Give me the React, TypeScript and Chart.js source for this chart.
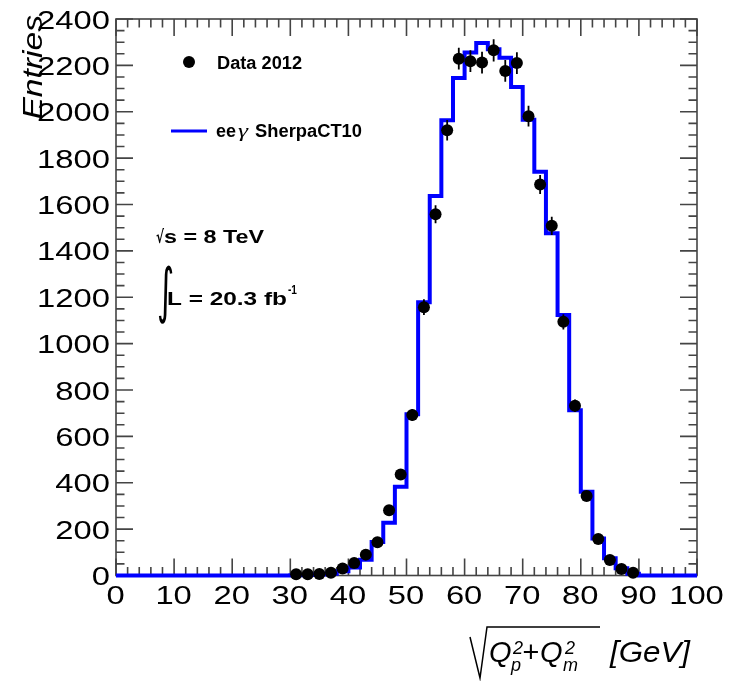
import React, { useEffect, useRef } from "react";
import { Chart, registerables } from "chart.js";

Chart.register(...registerables);

// MC histogram (eeγ SherpaCT10): lower bin edges and contents
const mcBinEdges = [0, 30, 32, 34, 36, 38, 40, 42, 44, 46, 48, 50, 52, 54, 56, 58, 60, 62, 64, 66, 68, 70, 72, 74, 76, 78, 80, 82, 84, 86, 88, 90];
const mcValues = [0, 1, 2, 4, 8, 18, 35, 68, 145, 227, 383, 695, 1178, 1637, 1963, 2146, 2255, 2297, 2270, 2233, 2107, 1966, 1741, 1476, 1123, 713, 361, 160, 74, 31, 8, 0];
const mcUpperEdge = 100;

// Data 2012: bin centres, entries and error bars
const dataX = [31, 33, 35, 37, 39, 41, 43, 45, 47, 49, 51, 53, 55, 57, 59, 61, 63, 65, 67, 69, 71, 73, 75, 77, 79, 81, 83, 85, 87, 89];
const dataY = [5, 5, 6, 12, 30, 54, 90, 143, 281, 436, 692, 1157, 1558, 1920, 2229, 2218, 2212, 2265, 2176, 2210, 1981, 1686, 1508, 1094, 732, 343, 157, 67, 28, 12];
const dataErr = [2, 2, 2, 3, 5, 7, 9, 12, 17, 21, 26, 34, 39, 44, 47, 47, 47, 48, 47, 47, 45, 41, 39, 33, 27, 19, 13, 8, 5, 3];

const xMin = 0, xMax = 100, xMajor = 10, xMinor = 2;
const yMin = 0, yMax = 2400, yMajor = 200, yMinor = 50;

const SANS = '"Liberation Sans", Arial, Helvetica, sans-serif';

function fitText(ctx: CanvasRenderingContext2D, text: string, x: number, y: number, font: string, width?: number, align: CanvasTextAlign = "left", sxFixed?: number) {
  ctx.save();
  ctx.font = font;
  const w = ctx.measureText(text).width;
  const sx = width ? width / w : (sxFixed ?? 1);
  ctx.translate(x, y);
  ctx.scale(sx, 1);
  ctx.textAlign = align;
  ctx.textBaseline = "alphabetic";
  ctx.fillText(text, 0, 0);
  ctx.restore();
}

const rootPlugin = {
  id: "rootStyle",
  beforeDatasetsDraw(chart: any) {
    const { ctx, chartArea: a, scales } = chart;
    const xs = scales.x, ys = scales.y;
    ctx.save();
    ctx.strokeStyle = "#444";
    ctx.lineWidth = 1.6;
    ctx.strokeRect(a.left, a.top, a.right - a.left, a.bottom - a.top);
    ctx.beginPath();
    for (let v = xMin; v <= xMax + 1e-9; v += xMinor) {
      const px = xs.getPixelForValue(v);
      const len = Math.abs(v % xMajor) < 1e-9 ? 17 : 8.5;
      ctx.moveTo(px, a.bottom); ctx.lineTo(px, a.bottom - len);
      ctx.moveTo(px, a.top); ctx.lineTo(px, a.top + len);
    }
    for (let v = yMin; v <= yMax + 1e-9; v += yMinor) {
      const py = ys.getPixelForValue(v);
      const len = Math.abs(v % yMajor) < 1e-9 ? 17 : 8.5;
      ctx.moveTo(a.left, py); ctx.lineTo(a.left + len, py);
      ctx.moveTo(a.right, py); ctx.lineTo(a.right - len, py);
    }
    ctx.stroke();
    ctx.restore();
  },
  afterDatasetsDraw(chart: any) {
    const { ctx, scales } = chart;
    const xs = scales.x, ys = scales.y;
    ctx.save();
    // error bars
    ctx.strokeStyle = "#000";
    ctx.lineWidth = 1.8;
    ctx.beginPath();
    dataX.forEach((x, i) => {
      const px = xs.getPixelForValue(x);
      ctx.moveTo(px, ys.getPixelForValue(dataY[i] - dataErr[i]));
      ctx.lineTo(px, ys.getPixelForValue(dataY[i] + dataErr[i]));
    });
    ctx.stroke();

    ctx.fillStyle = "#000";
    // tick labels
    const tickFont = `26px ${SANS}`;
    for (const t of ys.ticks) {
      const py = ys.getPixelForValue(t.value);
      ctx.save();
      ctx.font = tickFont;
      ctx.translate(110, py + 9.5);
      ctx.scale(1.26, 1);
      ctx.textAlign = "right";
      ctx.fillText(String(t.value), 0, 0);
      ctx.restore();
    }
    for (const t of xs.ticks) {
      const px = xs.getPixelForValue(t.value);
      ctx.save();
      ctx.font = tickFont;
      ctx.translate(px - 0.5, 604);
      ctx.scale(1.26, 1);
      ctx.textAlign = "center";
      ctx.fillText(String(t.value), 0, 0);
      ctx.restore();
    }

    // y title
    ctx.save();
    ctx.font = `italic 28px ${SANS}`;
    ctx.translate(42, 15);
    ctx.rotate(-Math.PI / 2);
    ctx.scale(1.2, 1);
    ctx.textAlign = "right";
    ctx.fillText("Entries", 0, 0);
    ctx.restore();

    // x title: sqrt(Q_p^2 + Q_m^2) [GeV]
    ctx.save();
    ctx.strokeStyle = "#000";
    ctx.lineWidth = 1.5;
    ctx.beginPath();
    ctx.moveTo(470, 637);
    ctx.lineTo(480, 678);
    ctx.lineTo(487, 627);
    ctx.lineTo(600, 627);
    ctx.stroke();
    ctx.restore();
    const tf = `italic 29px ${SANS}`;
    const sf = `italic 18px ${SANS}`;
    fitText(ctx, "Q", 489, 662, tf);
    fitText(ctx, "2", 513, 654, sf);
    fitText(ctx, "p", 511, 671, sf);
    fitText(ctx, "+", 522, 662, tf);
    fitText(ctx, "Q", 540, 662, tf);
    fitText(ctx, "2", 565, 654, sf);
    fitText(ctx, "m", 563, 671, sf);
    fitText(ctx, "[GeV]", 610, 662, tf, 80);

    // legend
    ctx.beginPath();
    ctx.arc(189, 62, 6, 0, Math.PI * 2);
    ctx.fill();
    const lf = `bold 18px ${SANS}`;
    fitText(ctx, "Data 2012", 217, 68.5, lf, 85);
    ctx.save();
    ctx.strokeStyle = "#0000ff";
    ctx.lineWidth = 3;
    ctx.beginPath();
    ctx.moveTo(171, 131);
    ctx.lineTo(207, 131);
    ctx.stroke();
    ctx.restore();
    fitText(ctx, "ee", 216, 137, lf, 20);
    fitText(ctx, "γ", 238, 137, `italic 18px "Liberation Serif", serif`, 10);
    fitText(ctx, "SherpaCT10", 255, 137, lf, 107);

    // annotations
    fitText(ctx, "√", 156, 243, `bold 18px "DejaVu Sans", sans-serif`, 8);
    fitText(ctx, "s = 8 TeV", 164, 243, `bold 19px ${SANS}`, 100);
    fitText(ctx, "∫", 157, 311, `60px "DejaVu Sans", sans-serif`, undefined, "left", 0.55);
    fitText(ctx, "L = 20.3 fb", 167, 305, `bold 19px ${SANS}`, 120);
    fitText(ctx, "-1", 288, 294, `bold 12px ${SANS}`, 9);
    ctx.restore();
  },
};

export default function App() {
  const canvasRef = useRef<HTMLCanvasElement | null>(null);

  useEffect(() => {
    const canvas = canvasRef.current;
    if (!canvas) return;
    const mcPoints = mcBinEdges.map((x, i) => ({ x, y: mcValues[i] }));
    mcPoints.push({ x: mcUpperEdge, y: mcValues[mcValues.length - 1] });
    const dataPoints = dataX.map((x, i) => ({ x, y: dataY[i] }));

    const chart = new Chart(canvas, {
      type: "line",
      data: {
        datasets: [
          {
            type: "scatter",
            label: "Data 2012",
            data: dataPoints,
            pointRadius: 6,
            pointBackgroundColor: "#000",
            pointBorderColor: "#000",
            pointBorderWidth: 0,
            showLine: false,
            clip: 10,
          } as any,
          {
            type: "line",
            label: "eeγ SherpaCT10",
            data: mcPoints,
            stepped: true,
            borderColor: "#0000ff",
            borderWidth: 4,
            pointRadius: 0,
            fill: false,
            clip: 6,
          } as any,
        ],
      },
      options: {
        animation: false,
        responsive: true,
        maintainAspectRatio: false,
        events: [],
        layout: { padding: { top: 19, right: 40, left: 0, bottom: 0 } },
        plugins: { legend: { display: false }, tooltip: { enabled: false } },
        scales: {
          x: {
            type: "linear",
            min: xMin,
            max: xMax,
            ticks: { display: false, stepSize: xMajor },
            grid: { display: false },
            border: { display: false },
            afterFit: (s: any) => { s.height = 105.5; },
          },
          y: {
            type: "linear",
            min: yMin,
            max: yMax,
            ticks: { display: false, stepSize: yMajor },
            grid: { display: false },
            border: { display: false },
            afterFit: (s: any) => { s.width = 116; },
          },
        },
      } as any,
      plugins: [rootPlugin],
    });
    return () => chart.destroy();
  }, []);

  return (
    <div style={{ position: "fixed", left: 0, top: 0, width: 737, height: 681, background: "#fff" }}>
      <canvas ref={canvasRef} style={{ display: "block" }} />
    </div>
  );
}
